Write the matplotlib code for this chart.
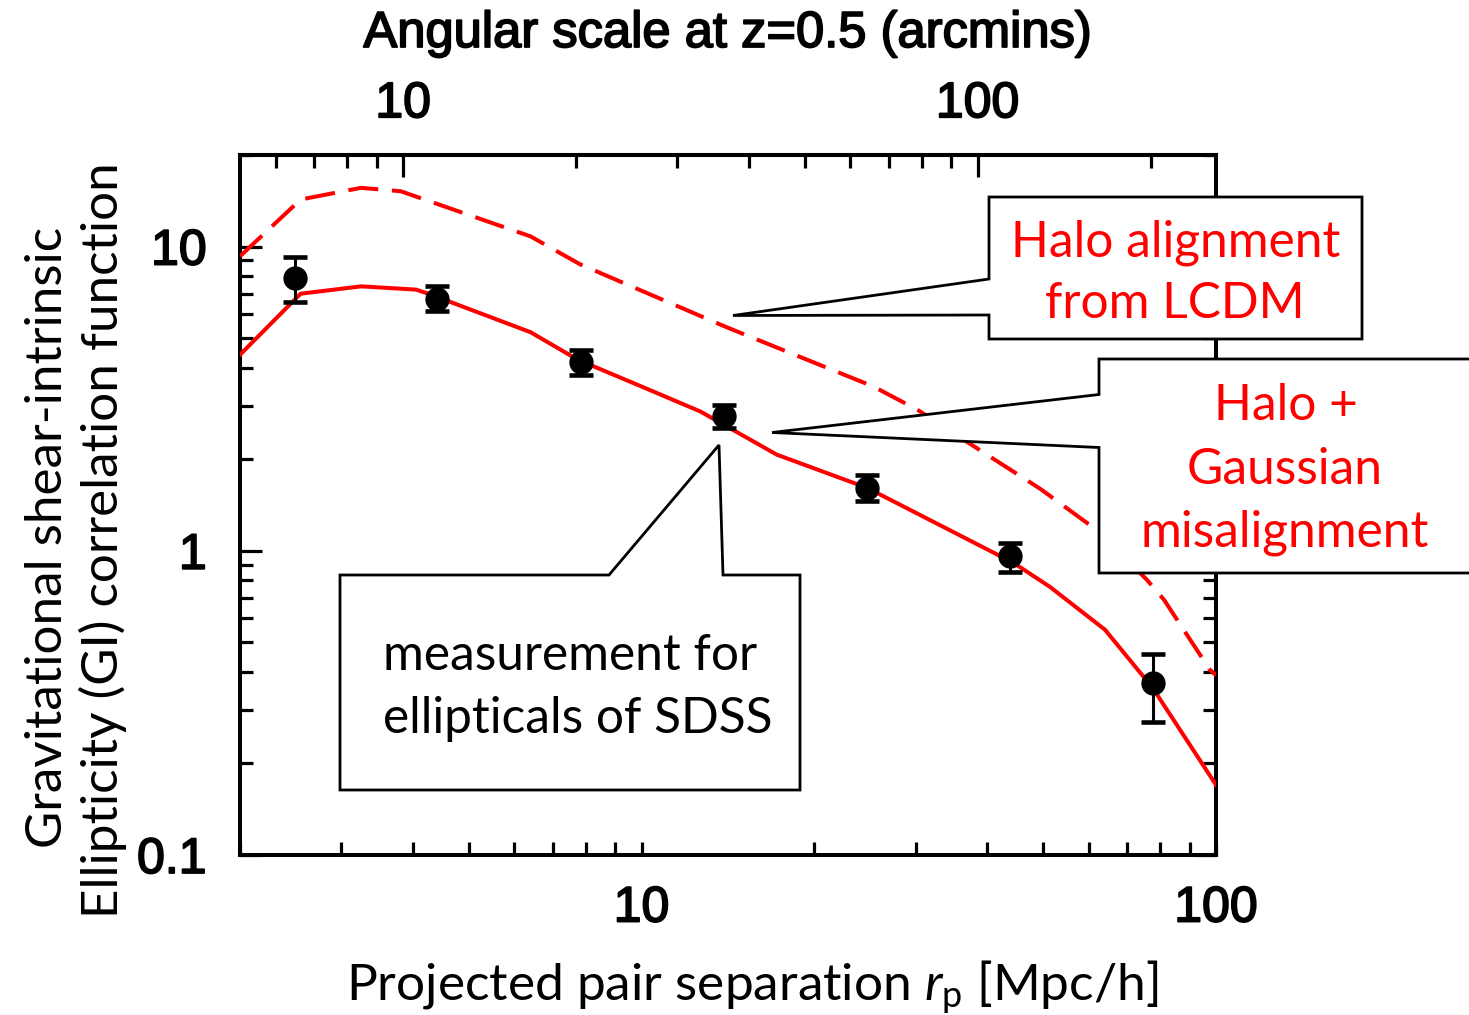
import matplotlib
matplotlib.use("Agg")
import matplotlib.pyplot as plt
from matplotlib import font_manager
from matplotlib import patheffects
from matplotlib.patches import Polygon
from matplotlib.ticker import FixedLocator, NullFormatter, LogLocator, FixedFormatter
import numpy as np

# --- measured GI correlation (SDSS ellipticals) ---
rp_meas = [2.49, 4.41, 7.83, 13.9, 24.7, 43.8, 77.8]
gi_meas = [7.89, 6.73, 4.16, 2.77, 1.61, 0.958, 0.367]
gi_hi = [9.25, 7.40, 4.56, 3.02, 1.78, 1.06, 0.459]
gi_lo = [6.56, 6.13, 3.79, 2.53, 1.46, 0.849, 0.274]

# --- model: halo alignment + Gaussian misalignment (solid) ---
rp_misalign = [2.0, 2.55, 3.25, 4.05, 4.30, 6.41, 7.74, 10.1, 12.66, 17.2, 24.7, 44.4, 51.4, 64.1, 77.6, 100.0]
gi_misalign = [4.41, 7.00, 7.40, 7.22, 6.95, 5.23, 4.25, 3.44, 2.87, 2.07, 1.61, 0.913, 0.761, 0.550, 0.354, 0.170]

# --- model: halo alignment from LCDM (dashed) ---
rp_halo = [2.0, 2.55, 3.25, 3.81, 6.41, 7.83, 14.1, 25.3, 30.2, 37.0, 49.4, 62.0, 75.8, 81.2, 97.6, 100.0]
gi_halo = [9.29, 14.28, 15.6, 15.2, 10.8, 8.73, 5.42, 3.47, 2.91, 2.27, 1.60, 1.17, 0.803, 0.69, 0.406, 0.39]

# arcminutes per Mpc/h at z = 0.5
ARCMIN_PER_MPC = 2.6

bottom_ticks = [10, 100]
bottom_labels = ["10", "100"]
top_ticks = [10, 100]
top_labels = ["10", "100"]
left_ticks = [0.1, 1, 10]
left_labels = ["0.1", "1", "10"]

available = {f.name for f in font_manager.fontManager.ttflist}
if "Liberation Sans Narrow" in available:
    TICK_FONT, TICK_SIZE, TITLE_SIZE = "Liberation Sans Narrow", 42, 43
else:
    TICK_FONT, TICK_SIZE, TITLE_SIZE = "Liberation Sans", 36, 36.5
# slightly heavier strokes for the axis numbers and the top title
HEAVY = [patheffects.withStroke(linewidth=1.3, foreground="black")]
BODY_FONT = "Lato"
BOX_SIZE = 35.7

W, H = 1469, 1015
fig = plt.figure(figsize=(W / 100, H / 100), dpi=100)
fig.patch.set_facecolor("white")


def fpos(x, y):
    """pixel position (origin top-left) -> figure fraction"""
    return (x / W, 1 - y / H)


ax = fig.add_axes([240 / W, 1 - 855 / H, (1216 - 240) / W, (855 - 155) / H])
ax.set_xscale("log")
ax.set_yscale("log")
ax.set_xlim(2, 100)
ax.set_ylim(0.1, 20)

ax.plot(rp_misalign, gi_misalign, color="#ff0000", lw=2.9, zorder=3)
ax.plot(rp_halo, gi_halo, color="#ff0000", lw=2.9, dashes=(7.5, 3.4), zorder=3)

rp = np.array(rp_meas)
gi = np.array(gi_meas)
yerr = [gi - np.array(gi_lo), np.array(gi_hi) - gi]
ax.errorbar(rp, gi, yerr=yerr, fmt="o", color="black", ms=16.5, capsize=8.3,
            capthick=3.3, elinewidth=2.2, zorder=4)

for s in ax.spines.values():
    s.set_linewidth(2.9)

ax.xaxis.set_major_locator(FixedLocator(bottom_ticks))
ax.xaxis.set_major_formatter(FixedFormatter(bottom_labels))
ax.xaxis.set_minor_locator(LogLocator(base=10, subs=np.arange(2, 10)))
ax.xaxis.set_minor_formatter(NullFormatter())
ax.yaxis.set_major_locator(FixedLocator(left_ticks))
ax.yaxis.set_major_formatter(FixedFormatter(left_labels))
ax.yaxis.set_minor_locator(LogLocator(base=10, subs=np.arange(2, 10)))
ax.yaxis.set_minor_formatter(NullFormatter())

ax.tick_params(which="both", direction="in", top=False, right=True, width=2.3)
ax.tick_params(axis="y", which="major", length=16)
ax.tick_params(axis="y", which="minor", length=9.4)
ax.tick_params(axis="x", which="both", length=9.4)
ax.tick_params(axis="x", which="major", pad=22)
ax.tick_params(axis="y", which="major", pad=24)
for lab in ax.get_xticklabels() + ax.get_yticklabels():
    lab.set_fontfamily(TICK_FONT)
    lab.set_fontsize(TICK_SIZE)
    lab.set_path_effects(HEAVY)

sec = ax.secondary_xaxis("top", functions=(lambda x: x * ARCMIN_PER_MPC,
                                           lambda a: a / ARCMIN_PER_MPC))
sec.xaxis.set_major_locator(FixedLocator(top_ticks))
sec.xaxis.set_major_formatter(FixedFormatter(top_labels))
sec.xaxis.set_minor_locator(FixedLocator([6, 7, 8, 9, 20, 30, 40, 50, 60, 70, 80, 90, 200]))
sec.xaxis.set_minor_formatter(NullFormatter())
sec.tick_params(which="both", direction="in", width=2.3)
sec.tick_params(which="major", length=16, pad=20)
sec.tick_params(which="minor", length=9.4)
sec.spines["top"].set_linewidth(2.9)
for lab in sec.get_xticklabels():
    lab.set_fontfamily(TICK_FONT)
    lab.set_fontsize(TICK_SIZE)
    lab.set_path_effects(HEAVY)

# axis titles
fig.text(*fpos(728, 47), "Angular scale at z=0.5 (arcmins)", ha="center", va="baseline",
         fontfamily=TICK_FONT, fontsize=TITLE_SIZE, path_effects=HEAVY)
plt.rcParams["mathtext.fontset"] = "custom"
plt.rcParams["mathtext.rm"] = BODY_FONT
plt.rcParams["mathtext.it"] = BODY_FONT + ":italic"
fig.text(*fpos(752, 1000), r"Projected pair separation $r_\mathrm{p}$ [Mpc/h]", ha="center",
         va="baseline", fontfamily=BODY_FONT, fontsize=37)
fig.text(*fpos(62, 537), "Gravitational shear-intrinsic", rotation=90, rotation_mode="anchor",
         ha="center", va="baseline", fontfamily=BODY_FONT, fontsize=36.8)
fig.text(*fpos(118, 540), "Ellipticity (GI) correlation function", rotation=90,
         rotation_mode="anchor", ha="center", va="baseline", fontfamily=BODY_FONT, fontsize=36.8)

# callout boxes
callouts = [
    [(989, 197), (1362, 197), (1362, 339), (989, 339), (989, 315), (733, 315.5), (989, 279)],
    [(1099, 359), (1480, 359), (1480, 573), (1099, 573), (1099, 447.5), (772, 432.5), (1099, 394.5)],
    [(340, 575), (609, 575), (719, 445), (723, 575), (800, 575), (800, 790), (340, 790)],
]
for pts in callouts:
    poly = Polygon([fpos(x, y) for x, y in pts], closed=True, transform=fig.transFigure,
                   facecolor="white", edgecolor="black", lw=2.0, zorder=5)
    fig.add_artist(poly)

red_lines = [
    ("Halo alignment", 1176, 256),
    ("from LCDM", 1175, 318),
    ("Halo +", 1286, 420),
    ("Gaussian", 1285, 484),
    ("misalignment", 1285, 547),
]
for s, x, y in red_lines:
    fig.text(*fpos(x, y), s, ha="center", va="baseline", color="#ff0000",
             fontfamily=BODY_FONT, fontsize=BOX_SIZE, zorder=6)

for s, y in [("measurement for", 670), ("ellipticals of SDSS", 733)]:
    fig.text(*fpos(383, y), s, ha="left", va="baseline", color="black",
             fontfamily=BODY_FONT, fontsize=BOX_SIZE, zorder=6)

fig.savefig("out.png", dpi=100, facecolor="white")
